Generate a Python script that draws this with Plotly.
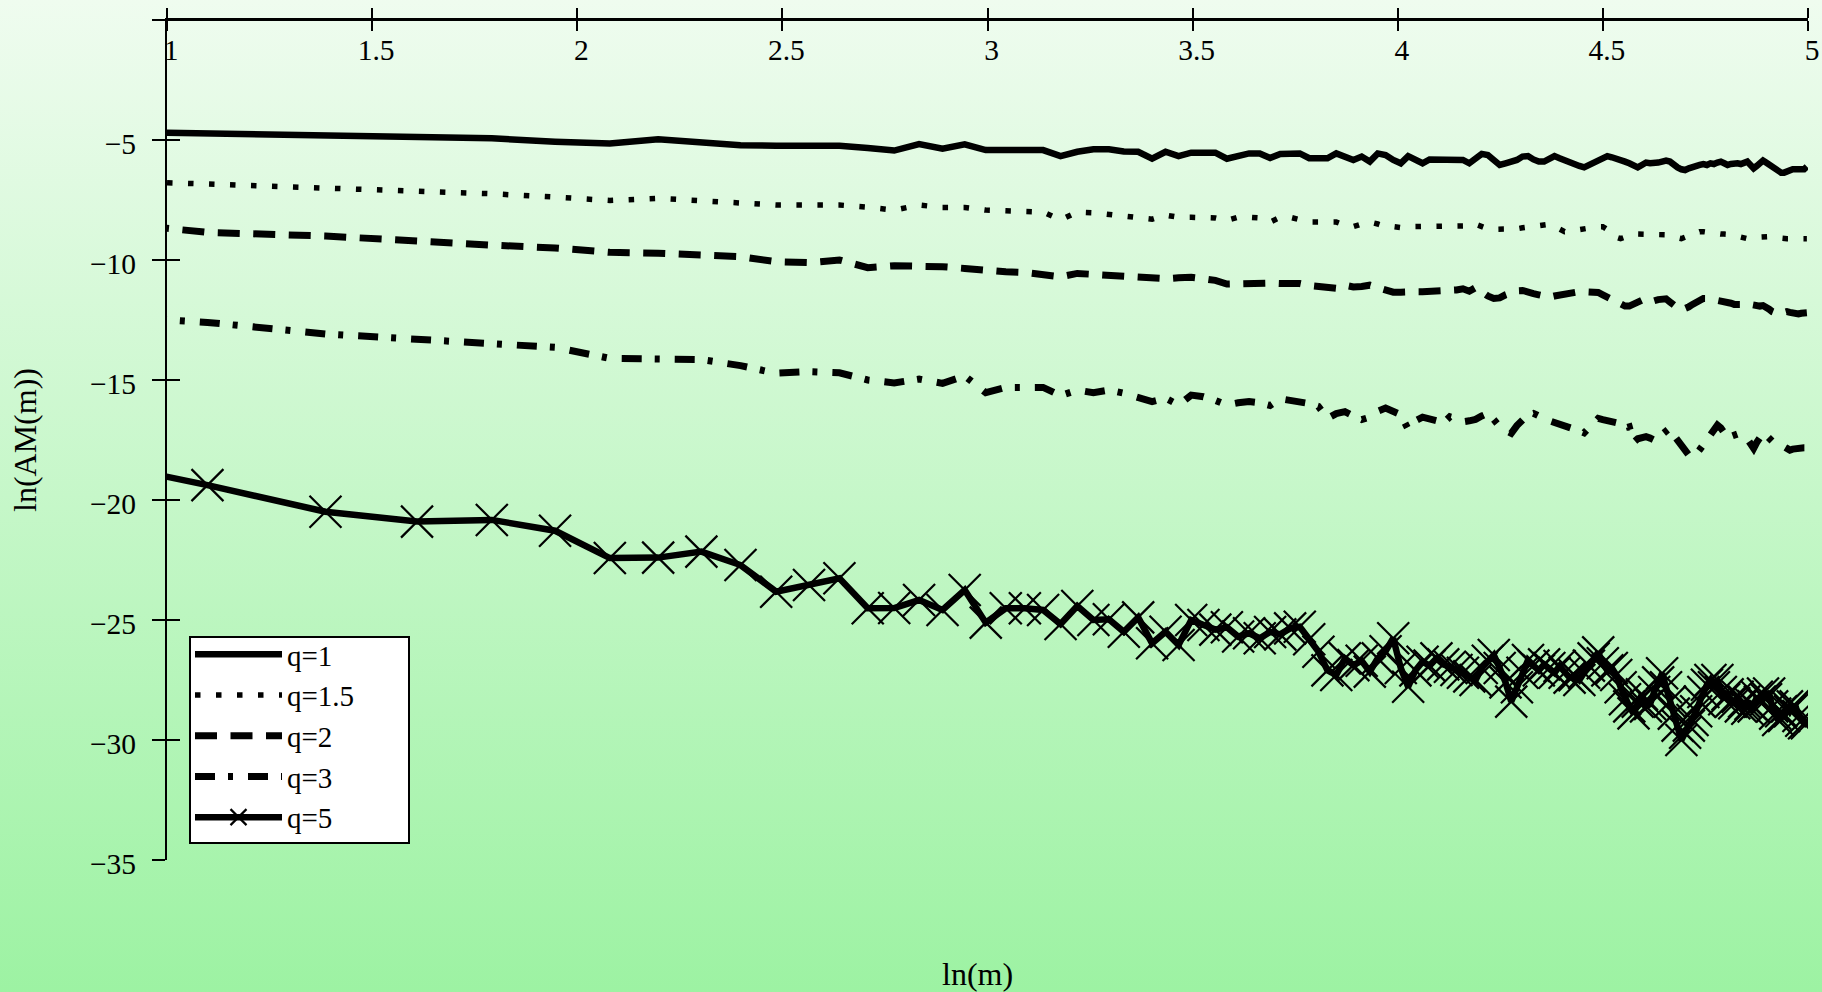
import base64
import numpy as np
import plotly.graph_objects as go

# ---------------- data ----------------
m_values = list(range(2, 149))  # m = 2 .. 148, x = ln(m)

q1 = [-4.61, -4.73, -4.83, -4.93, -4.93, -5.07, -5.15, -4.97, -5.10, -5.22,
      -5.24, -5.24, -5.24, -5.33, -5.44, -5.17, -5.36, -5.18, -5.42, -5.42,
      -5.42, -5.42, -5.67, -5.49, -5.39, -5.39, -5.48, -5.49, -5.78, -5.49,
      -5.67, -5.53, -5.53, -5.53, -5.78, -5.70, -5.56, -5.56, -5.75, -5.58,
      -5.56, -5.56, -5.76, -5.76, -5.76, -5.56, -5.67, -5.83, -5.69, -5.90,
      -5.56, -5.63, -5.83, -5.97, -5.67, -5.83, -5.97, -5.81, -5.81, -5.81,
      -5.81, -5.81, -5.83, -5.97, -5.81, -5.58, -5.63, -5.83, -6.04, -5.97,
      -5.90, -5.83, -5.69, -5.67, -5.81, -5.90, -5.90, -5.81, -5.67, -5.76,
      -5.86, -5.94, -6.00, -6.08, -6.14, -6.04, -5.90, -5.81, -5.69, -5.67,
      -5.72, -5.76, -5.83, -5.90, -5.97, -6.08, -6.14, -6.04, -5.94, -5.97,
      -5.97, -5.94, -5.90, -5.86, -5.90, -6.04, -6.14, -6.22, -6.25, -6.18,
      -6.11, -6.08, -6.04, -6.00, -6.04, -5.97, -6.00, -5.94, -5.90, -5.97,
      -6.04, -6.00, -5.97, -5.97, -6.00, -5.97, -5.90, -6.04, -6.18, -6.08,
      -5.97, -5.86, -5.94, -6.04, -6.11, -6.18, -6.28, -6.36, -6.36, -6.32,
      -6.22, -6.22, -6.22, -6.22, -6.22, -6.22, -6.11]

q1_5 = [-6.60, -6.82, -6.98, -7.11, -7.24, -7.38, -7.52, -7.43, -7.53, -7.61,
        -7.71, -7.71, -7.71, -7.80, -7.92, -7.71, -7.81, -7.81, -7.92, -7.95,
        -8.00, -8.00, -8.33, -8.00, -8.03, -8.10, -8.13, -8.22, -8.30, -8.13,
        -8.22, -8.22, -8.22, -8.25, -8.35, -8.22, -8.22, -8.25, -8.42, -8.22,
        -8.22, -8.30, -8.42, -8.42, -8.42, -8.42, -8.55, -8.61, -8.50, -8.42,
        -8.50, -8.61, -8.61, -8.65, -8.61, -8.61, -8.61, -8.61, -8.61, -8.61,
        -8.61, -8.61, -8.61, -8.58, -8.51, -8.60, -8.70, -8.72, -8.72, -8.72,
        -8.72, -8.70, -8.66, -8.62, -8.61, -8.58, -8.52, -8.51, -8.60, -8.70,
        -8.82, -8.80, -8.76, -8.72, -8.72, -8.68, -8.64, -8.61, -8.61, -8.70,
        -8.85, -9.05, -9.11, -9.05, -8.98, -8.92, -8.92, -8.92, -8.92, -8.92,
        -8.92, -8.92, -8.92, -8.95, -9.00, -9.05, -9.10, -9.11, -9.05, -8.98,
        -8.92, -8.86, -8.82, -8.82, -8.85, -8.88, -8.90, -8.92, -8.92, -8.92,
        -8.92, -8.94, -8.98, -9.02, -9.06, -9.10, -9.11, -9.11, -9.11, -9.08,
        -9.05, -9.03, -9.03, -9.03, -9.05, -9.07, -9.09, -9.11, -9.11, -9.11,
        -9.11, -9.11, -9.11, -9.11, -9.11, -9.11, -9.11]

q2 = [-8.15, -8.85, -9.00, -9.24, -9.38, -9.50, -9.68, -9.72, -9.82, -9.86,
      -10.07, -10.11, -10.00, -10.32, -10.24, -10.24, -10.28, -10.35, -10.44, -10.49,
      -10.52, -10.60, -10.70, -10.56, -10.60, -10.65, -10.72, -10.76, -10.81, -10.78,
      -10.74, -10.72, -10.78, -10.85, -11.00, -10.98, -10.96, -10.96, -10.96, -10.98,
      -10.98, -10.98, -11.06, -11.12, -11.15, -11.18, -11.05, -11.12, -11.10, -11.05,
      -11.15, -11.28, -11.34, -11.34, -11.30, -11.32, -11.32, -11.32, -11.32, -11.32,
      -11.28, -11.25, -11.20, -11.30, -11.15, -11.35, -11.50, -11.60, -11.58, -11.45,
      -11.35, -11.28, -11.27, -11.30, -11.40, -11.45, -11.50, -11.55, -11.50, -11.45,
      -11.40, -11.35, -11.32, -11.32, -11.32, -11.32, -11.32, -11.35, -11.45, -11.55,
      -11.65, -11.75, -11.85, -11.92, -11.92, -11.85, -11.75, -11.65, -11.60, -11.65,
      -11.70, -11.65, -11.60, -11.62, -11.75, -11.90, -12.00, -12.08, -12.05, -11.95,
      -11.85, -11.75, -11.65, -11.60, -11.60, -11.62, -11.66, -11.70, -11.72, -11.70,
      -11.72, -11.80, -11.85, -11.88, -11.85, -11.80, -11.82, -11.88, -11.92, -11.95,
      -11.92, -11.90, -11.95, -12.05, -12.15, -12.22, -12.25, -12.22, -12.18, -12.15,
      -12.18, -12.22, -12.25, -12.25, -12.22, -12.22, -12.20]

q3 = [-12.16, -12.60, -13.08, -13.33, -13.49, -13.64, -14.10, -14.13, -14.15, -14.40,
      -14.72, -14.65, -14.70, -15.00, -15.12, -14.96, -15.14, -14.83, -15.53, -15.31,
      -15.31, -15.31, -15.65, -15.42, -15.53, -15.42, -15.55, -15.69, -15.90, -15.76,
      -16.04, -15.63, -15.70, -15.85, -16.04, -15.95, -15.90, -15.95, -16.06, -15.78,
      -15.84, -15.90, -15.98, -16.10, -16.60, -16.40, -16.32, -16.50, -16.65, -16.55,
      -16.30, -16.17, -16.32, -16.45, -17.05, -16.70, -16.55, -16.60, -16.70, -16.80,
      -16.53, -16.60, -16.74, -16.70, -16.64, -16.50, -16.39, -16.65, -16.94, -17.10,
      -17.22, -16.90, -16.67, -16.45, -16.39, -16.53, -16.60, -16.70, -16.76, -16.85,
      -16.90, -16.97, -17.05, -17.12, -17.20, -17.00, -16.80, -16.60, -16.65, -16.70,
      -16.72, -16.78, -16.90, -17.00, -16.95, -17.60, -17.45, -17.38, -17.36, -17.42,
      -17.50, -17.40, -17.25, -17.10, -17.00, -17.30, -17.50, -17.70, -17.90, -18.13,
      -18.15, -18.08, -17.90, -17.70, -17.50, -17.30, -17.10, -16.88, -17.00, -17.20,
      -17.40, -17.35, -17.30, -17.25, -17.28, -17.30, -17.45, -17.65, -17.85, -17.60,
      -17.40, -17.22, -17.30, -17.45, -17.55, -17.57, -17.62, -17.70, -17.78, -17.85,
      -17.92, -17.88, -17.85, -17.83, -17.82, -17.82, -17.82]

q5 = [-17.95, -19.38, -20.49, -20.90, -20.83, -21.28, -22.42, -22.40, -22.15, -22.71,
      -23.82, -23.54, -23.26, -24.51, -24.50, -24.17, -24.58, -23.75, -25.11, -24.51,
      -24.51, -24.58, -25.17, -24.42, -25.00, -24.97, -25.49, -24.89, -25.97, -25.49,
      -26.04, -25.00, -25.21, -25.40, -25.30, -25.69, -25.55, -25.76, -25.50, -25.60,
      -25.35, -25.28, -25.80, -26.32, -27.10, -27.29, -26.60, -26.88, -26.70, -27.15,
      -26.60, -26.30, -25.76, -27.00, -27.78, -27.10, -26.74, -26.90, -26.60, -26.85,
      -26.95, -27.08, -27.20, -27.35, -27.50, -27.00, -26.70, -26.46, -27.00, -27.60,
      -28.40, -27.80, -27.20, -26.67, -26.90, -27.10, -26.85, -27.00, -27.20, -26.92,
      -27.20, -27.40, -27.30, -27.50, -27.20, -26.90, -26.60, -26.35, -26.80, -27.10,
      -27.00, -27.29, -27.80, -28.30, -28.60, -28.89, -28.40, -28.10, -28.60, -28.50,
      -28.00, -27.60, -27.22, -27.80, -28.40, -28.90, -29.40, -30.00, -29.70, -29.40,
      -29.17, -28.80, -28.40, -28.00, -27.70, -27.50, -27.80, -27.50, -28.00, -28.30,
      -28.10, -28.40, -28.47, -28.20, -28.60, -28.40, -28.70, -28.50, -28.60, -28.20,
      -28.40, -28.06, -28.30, -28.06, -28.60, -28.90, -29.17, -28.80, -29.00, -28.60,
      -28.80, -28.60, -28.60, -29.00, -29.20, -29.30, -29.30]

series_names = ["q=1", "q=1.5", "q=2", "q=3", "q=5"]
x_tick_vals = [1, 1.5, 2, 2.5, 3, 3.5, 4, 4.5, 5]
x_tick_text = ["1", "1.5", "2", "2.5", "3", "3.5", "4", "4.5", "5"]
y_tick_vals = [-35, -30, -25, -20, -15, -10, -5, 0]
y_tick_text = ["\u221235", "\u221230", "\u221225", "\u221220", "\u221215", "\u221210", "\u22125", ""]

# ---------------- figure ----------------
W, H = 1822, 992
FONT = "Liberation Serif, Times New Roman, serif"
x = np.log(np.array(m_values, dtype=float))

fig = go.Figure()
styles = [
    dict(width=6.5, dash="solid"),
    dict(width=5.5, dash="5.5px,15.5px"),
    dict(width=7, dash="22px,13.5px"),
    dict(width=7, dash="20px,13px,5px,15px"),
    dict(width=6.5, dash="solid"),
]
for name, ys, st in zip(series_names, [q1, q1_5, q2, q3, q5], styles):
    tr = dict(x=x, y=ys, name=name, line=dict(color="black", **st))
    if name == "q=5":
        tr["mode"] = "lines+markers"
        tr["marker"] = dict(symbol="x-thin", size=32, color="black",
                            line=dict(color="black", width=2.2))
    else:
        tr["mode"] = "lines"
    fig.add_trace(go.Scatter(**tr))

x0, x1 = 167 / W, 1808 / W
y0, y1 = 1 - 860 / H, 1 - 20 / H

axis_common = dict(showgrid=False, zeroline=False, showline=True, linecolor="black",
                   linewidth=2, tickcolor="black", tickwidth=2, automargin=False)
TICKFONT = dict(family=FONT, size=29.5)

fig.update_layout(
    width=W, height=H,
    margin=dict(l=0, r=0, t=0, b=0, autoexpand=False),
    paper_bgcolor="#9bf2a1",
    plot_bgcolor="rgba(0,0,0,0)",
    font=dict(family=FONT, color="black", size=29),
    # top axis: upward tick halves, no labels
    xaxis=dict(range=[1, 5], domain=[x0, x1], anchor="y", side="top",
               tickvals=x_tick_vals, ticktext=x_tick_text, ticks="outside", ticklen=10,
               showticklabels=False, **axis_common),
    # same axis drawn again at the top, pointing down, carrying the labels
    xaxis2=dict(range=[1, 5], domain=[x0, x1], anchor="free", position=y1,
                side="bottom", overlaying="x",
                tickvals=x_tick_vals, ticktext=x_tick_text, ticks="outside", ticklen=10,
                ticklabelstandoff=-6, ticklabelshift=4,
                tickfont=TICKFONT, **axis_common),
    yaxis=dict(range=[-35, 0], domain=[y0, y1], anchor="x",
               tickvals=y_tick_vals, ticktext=y_tick_text, ticks="outside", ticklen=13,
               ticklabelstandoff=10, ticklabelshift=4,
               tickfont=TICKFONT, **axis_common),
    yaxis2=dict(range=[-35, 0], domain=[y0, y1], anchor="x", overlaying="y",
                tickvals=y_tick_vals, ticks="inside", ticklen=13, showticklabels=False,
                **axis_common),
    legend=dict(x=190 / W, y=1 - 629 / H, xanchor="left", yanchor="top",
                bgcolor="rgba(0,0,0,0)", borderwidth=0,
                font=dict(family=FONT, size=29), itemwidth=87, tracegroupgap=0),
    # legend frame
    shapes=[dict(type="rect", xref="paper", yref="paper",
                 x0=190 / W, x1=409 / W, y0=1 - 843 / H, y1=1 - 637 / H,
                 fillcolor="white", line=dict(color="black", width=2), layer="above")],
    annotations=[
        dict(text="ln(AM(m))", x=25 / W, y=1 - 440 / H, xref="paper", yref="paper",
             textangle=-90, showarrow=False, xanchor="center", yanchor="middle",
             font=dict(family=FONT, size=32)),
        dict(text="ln(m)", x=977 / W, y=1 - 974 / H, xref="paper", yref="paper",
             showarrow=False, xanchor="center", yanchor="middle",
             font=dict(family=FONT, size=32)),
    ],
)

# empty trace so the overlay axes are rendered
fig.add_trace(go.Scatter(x=[None], y=[None], xaxis="x2", yaxis="y2", showlegend=False,
                         hoverinfo="skip"))

svg = ('<svg xmlns="http://www.w3.org/2000/svg" width="%d" height="%d" '
       'preserveAspectRatio="none" viewBox="0 0 %d %d">'
       '<defs><linearGradient id="g" x1="0" y1="0" x2="0" y2="1">'
       '<stop offset="0" stop-color="#f0fcf0"/>'
       '<stop offset="1" stop-color="#9bf2a1"/>'
       '</linearGradient></defs>'
       '<rect x="0" y="0" width="%d" height="%d" fill="url(#g)"/></svg>') % (W, H, W, H, W, H)
src = "data:image/svg+xml;base64," + base64.b64encode(svg.encode()).decode()
fig.add_layout_image(dict(source=src, xref="paper", yref="paper", x=-0.01, y=1.01,
                          sizex=1.02, sizey=1.03, xanchor="left", yanchor="top",
                          sizing="stretch", layer="below"))

fig.write_html("out.html")
